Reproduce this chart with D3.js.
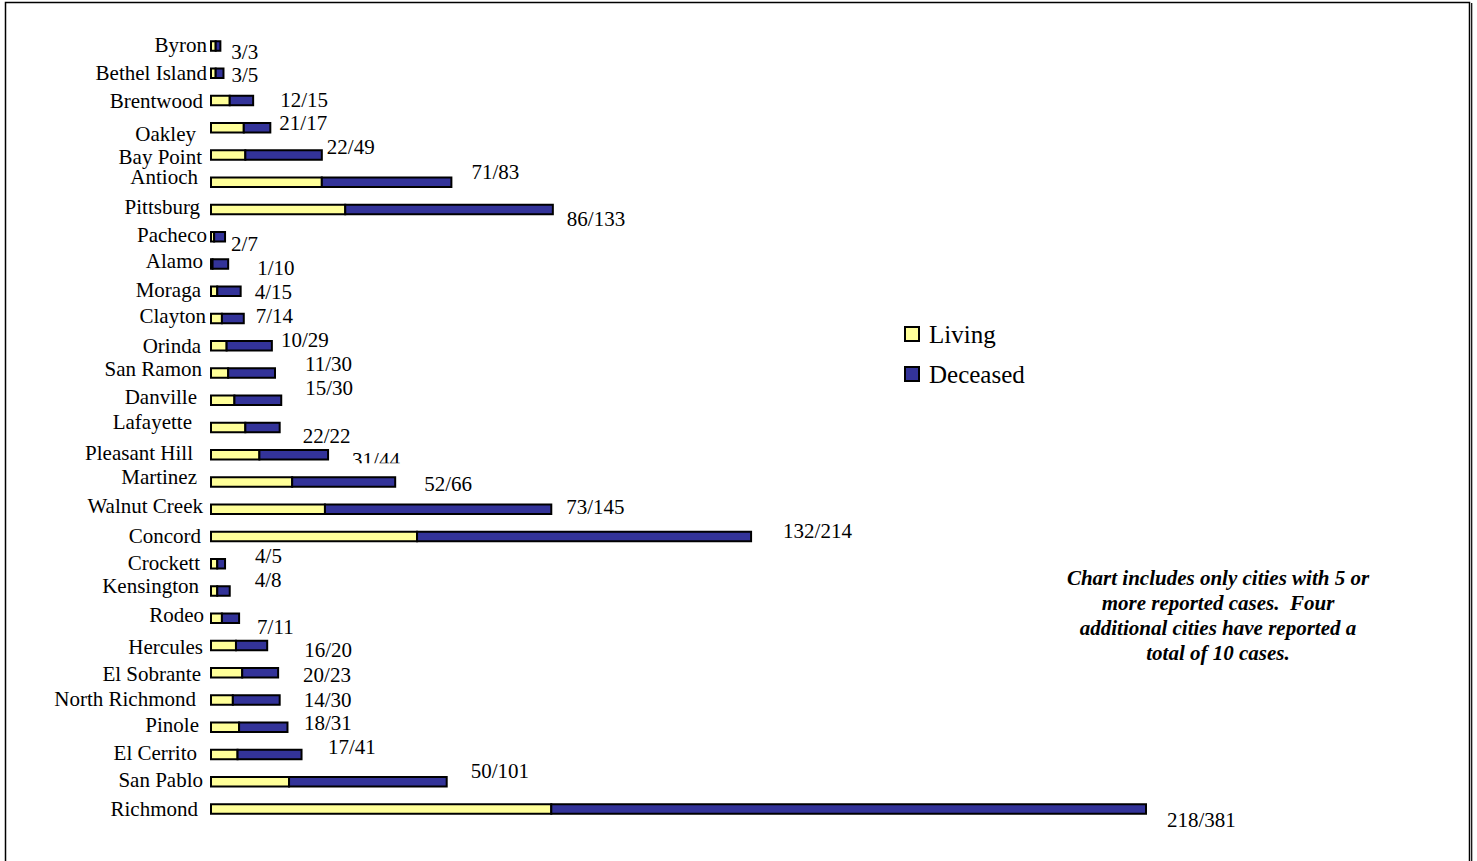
<!DOCTYPE html>
<html>
<head>
<meta charset="utf-8">
<script src="https://cdn.jsdelivr.net/npm/d3@7"></script>
<style>
  html, body { margin: 0; padding: 0; background: #fff; }
  svg { display: block; font-family: "Liberation Serif", "Times New Roman", serif; }
</style>
</head>
<body>
<div id="chart"></div>
<script>
const cities = ['Byron', 'Bethel Island', 'Brentwood', 'Oakley', 'Bay Point', 'Antioch', 'Pittsburg',
  'Pacheco', 'Alamo', 'Moraga', 'Clayton', 'Orinda', 'San Ramon', 'Danville', 'Lafayette',
  'Pleasant Hill', 'Martinez', 'Walnut Creek', 'Concord', 'Crockett', 'Kensington', 'Rodeo',
  'Hercules', 'El Sobrante', 'North Richmond', 'Pinole', 'El Cerrito', 'San Pablo', 'Richmond'];
const living = [3, 3, 12, 21, 22, 71, 86, 2, 1, 4, 7, 10, 11, 15, 22, 31, 52, 73, 132, 4, 4, 7, 16, 20, 14, 18, 17, 50, 218];
const deceased = [3, 5, 15, 17, 49, 83, 133, 7, 10, 15, 14, 29, 30, 30, 22, 44, 66, 145, 214, 5, 8, 11, 20, 23, 30, 31, 41, 101, 381];
const seriesNames = ['Living', 'Deceased'];
const noteLines = ['Chart includes only cities with 5 or', 'more reported cases.  Four',
  'additional cities have reported a', 'total of 10 cases.'];

// hand placement of the labels in the original (nudges from bar start / bar end)
const cityNudge = [[-4,-1],[-4,-0.5],[-8,0],[-15,6],[-9,2],[-13,-5],[-11,-3],[-4,-2],[-8,-3],[-10,-1],
  [-5,-3],[-10,0],[-9,-4],[-14,-3.5],[-19,-5.5],[-18,-2],[-14,-5],[-8,-3],[-10,-1],[-11,-1],
  [-12,-5],[-7,-3],[-8,1],[-10,1],[-15,-1],[-12,-2],[-14,-1.5],[-8,-2],[-13,0]];
const valueNudge = [[11,5.5],[8,2],[27,-1],[9,-5],[5,-8],[20,-10],[14,9.5],[6,7],[29,4],[14,0.5],
  [12,-3],[9,-6],[30,-9],[24,-12.5],[23,8.5],[24,5],[29,2],[15,-2],[32,-5.5],[30,-8],
  [25,-11.5],[18,8.5],[37,4.5],[25,2],[24,0],[16.5,-4],[26.5,-8],[24,-11],[21,10.5]];

const W = 1477, H = 861;
const colors = ['#ffff99', '#333399'];
const fs = 21;

const svg = d3.select('#chart').append('svg').attr('width', W).attr('height', H);

// frame
svg.append('rect').attr('x', 5.5).attr('y', 2.5).attr('width', 1464).attr('height', H + 10)
  .attr('fill', '#fff').attr('stroke', '#000').attr('stroke-width', 1.5);
svg.append('line').attr('x1', 1471.7).attr('x2', 1471.7).attr('y1', 3).attr('y2', H)
  .attr('stroke', '#000').attr('stroke-width', 1.2);

const x = d3.scaleLinear().domain([0, 599]).range([211, 1146]);
const y = d3.scalePoint().domain(cities).range([46, 809]);
const barH = 9.5;

const rows = cities.map((c, i) => ({ city: c, living: living[i], deceased: deceased[i], i }));
const stacked = d3.stack().keys(['living', 'deceased'])(rows);

const g = svg.append('g');
g.selectAll('g.series')
  .data(stacked)
  .join('g')
  .attr('class', 'series')
  .attr('fill', (d, k) => colors[k])
  .selectAll('rect')
  .data(d => d)
  .join('rect')
  .attr('x', d => x(d[0]))
  .attr('y', d => y(d.data.city) - barH / 2)
  .attr('width', d => x(d[1]) - x(d[0]))
  .attr('height', barH)
  .attr('stroke', '#000')
  .attr('stroke-width', 2);

// city names
g.selectAll('text.city')
  .data(rows)
  .join('text')
  .attr('class', 'city')
  .attr('x', d => x(0) + cityNudge[d.i][0])
  .attr('y', d => y(d.city) + cityNudge[d.i][1] + 7)
  .attr('text-anchor', 'end')
  .attr('font-size', fs)
  .text(d => d.city);

// clip used for the half hidden label (31/44 in the original)
const ph = rows[15];
svg.append('clipPath').attr('id', 'cut')
  .append('rect').attr('x', 0).attr('width', W)
  .attr('y', 0).attr('height', y(ph.city) + 8.5);

// value labels
g.selectAll('text.val')
  .data(rows)
  .join('text')
  .attr('class', 'val')
  .attr('x', d => x(d.living + d.deceased) + valueNudge[d.i][0])
  .attr('y', d => y(d.city) + valueNudge[d.i][1] + 7)
  .attr('font-size', fs)
  .attr('clip-path', d => d.i === 15 ? 'url(#cut)' : null)
  .text(d => `${d.living}/${d.deceased}`);

// legend
const legend = svg.append('g').attr('transform', 'translate(905,327)');
legend.selectAll('g')
  .data(seriesNames)
  .join('g')
  .attr('transform', (d, k) => `translate(0,${k * 40})`)
  .call(s => {
    s.append('rect').attr('width', 14).attr('height', 14)
      .attr('fill', (d, k) => colors[k]).attr('stroke', '#000').attr('stroke-width', 2);
    s.append('text').attr('x', 24).attr('y', 16).attr('font-size', 25).text(d => d);
  });

// note
svg.append('g')
  .selectAll('text')
  .data(noteLines)
  .join('text')
  .attr('x', 1218)
  .attr('y', (d, k) => 585 + k * 25)
  .attr('text-anchor', 'middle')
  .attr('font-size', 21)
  .attr('font-weight', 'bold')
  .attr('font-style', 'italic')
  .attr('xml:space', 'preserve')
  .style('white-space', 'pre')
  .text(d => d);
</script>
</body>
</html>
